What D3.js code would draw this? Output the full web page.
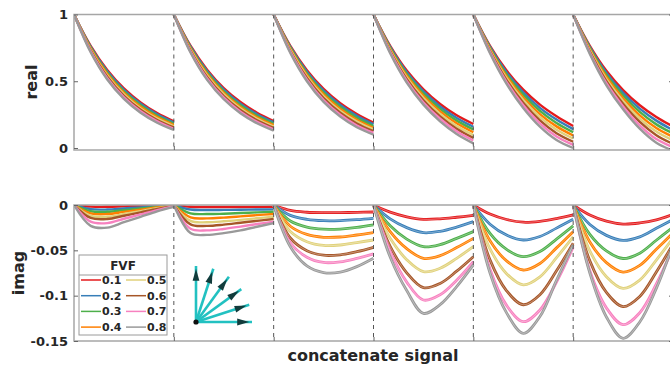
<!DOCTYPE html>
<html>
<head>
<meta charset="utf-8">
<script src="https://cdn.jsdelivr.net/npm/d3@7"></script>
<style>
    body { margin: 0; background: #fff; }
    svg text { font-family: "DejaVu Sans", sans-serif; font-weight: bold; fill: #262626; }
</style>
</head>
<body>
<svg id="chart" width="670" height="367"></svg>
<script>
(function()
{
    // FVF groups and their colours
    const fvfLevels = ["0.1", "0.2", "0.3", "0.4", "0.5", "0.6", "0.7", "0.8"];
    const fvfColors = ["#e41a1c", "#377eb8", "#4daf4a", "#ff7f00", "#e0d17a", "#a65628", "#f781bf", "#999999"];

    // position of each sample inside one segment (0 = start, 1 = end)
    const samplePos = [0, 0.167, 0.333, 0.5, 0.667, 0.833, 1];

    // real part, one array per segment, one row per FVF
    const real1 = [
        [1, .765, .585, .447, .342, .262, .200],
        [1, .758, .575, .436, .331, .252, .191],
        [1, .751, .564, .424, .320, .241, .181],
        [1, .744, .554, .413, .309, .231, .172],
        [1, .738, .544, .402, .297, .220, .163],
        [1, .731, .534, .391, .286, .210, .154],
        [1, .724, .523, .379, .275, .199, .144],
        [1, .717, .513, .368, .264, .189, .135]
    ];
    const real2 = [
        [1, .766, .587, .449, .344, .264, .202],
        [1, .759, .576, .437, .332, .253, .192],
        [1, .751, .565, .425, .320, .241, .181],
        [1, .744, .554, .413, .308, .230, .171],
        [1, .737, .543, .401, .296, .219, .161],
        [1, .730, .532, .389, .284, .208, .151],
        [1, .722, .521, .377, .272, .196, .140],
        [1, .715, .510, .365, .260, .185, .130]
    ];
    const real3 = [
        [1, .765, .583, .443, .336, .255, .190],
        [1, .757, .571, .429, .322, .241, .177],
        [1, .750, .559, .415, .307, .226, .164],
        [1, .742, .547, .401, .293, .212, .151],
        [1, .735, .536, .387, .278, .198, .139],
        [1, .727, .524, .373, .264, .184, .126],
        [1, .720, .512, .359, .249, .169, .113],
        [1, .712, .500, .345, .235, .155, .100]
    ];
    const real4 = [
        [1, .765, .580, .440, .330, .245, .180],
        [1, .757, .567, .424, .311, .225, .159],
        [1, .749, .554, .407, .293, .205, .139],
        [1, .741, .541, .391, .274, .185, .118],
        [1, .734, .529, .374, .256, .165, .097],
        [1, .726, .516, .358, .237, .145, .076],
        [1, .718, .503, .341, .219, .125, .056],
        [1, .710, .490, .325, .200, .105, .035]
    ];
    const real5 = [
        [1, .765, .580, .437, .325, .238, .165],
        [1, .757, .566, .417, .301, .213, .141],
        [1, .749, .551, .398, .278, .187, .118],
        [1, .741, .537, .378, .254, .162, .094],
        [1, .734, .523, .359, .231, .137, .071],
        [1, .726, .509, .339, .207, .111, .047],
        [1, .718, .494, .320, .184, .086, .024],
        [1, .710, .480, .300, .160, .060, .000]
    ];
    const real6 = [
        [1, .765, .578, .434, .320, .232, .160],
        [1, .756, .563, .413, .295, .205, .134],
        [1, .748, .547, .393, .270, .177, .109],
        [1, .739, .532, .372, .245, .150, .083],
        [1, .731, .516, .352, .220, .123, .057],
        [1, .722, .501, .331, .195, .096, .031],
        [1, .714, .485, .311, .170, .067, .006],
        [1, .705, .470, .290, .145, .040, -.020]
    ];

    // imaginary part
    const imag1 = [
        [0, -0.0018, -0.0020, -0.0015, -0.0010, -0.0006, -0.0002],
        [0, -0.0046, -0.0050, -0.0038, -0.0026, -0.0014, -0.0004],
        [0, -0.0069, -0.0075, -0.0057, -0.0039, -0.0021, -0.0006],
        [0, -0.0092, -0.0100, -0.0076, -0.0052, -0.0028, -0.0008],
        [0, -0.0120, -0.0130, -0.0099, -0.0068, -0.0036, -0.0010],
        [0, -0.0143, -0.0155, -0.0118, -0.0081, -0.0043, -0.0012],
        [0, -0.0184, -0.0200, -0.0152, -0.0104, -0.0056, -0.0016],
        [0, -0.0230, -0.0250, -0.0190, -0.0130, -0.0070, -0.0020]
    ];
    const imag2 = [
        [0, -0.0020, -0.0022, -0.0022, -0.0022, -0.0021, -0.0020],
        [0, -0.0050, -0.0055, -0.0054, -0.0052, -0.0050, -0.0048],
        [0, -0.0092, -0.0100, -0.0096, -0.0089, -0.0081, -0.0074],
        [0, -0.0136, -0.0147, -0.0139, -0.0126, -0.0112, -0.0099],
        [0, -0.0176, -0.0190, -0.0180, -0.0164, -0.0146, -0.0129],
        [0, -0.0214, -0.0230, -0.0217, -0.0196, -0.0175, -0.0154],
        [0, -0.0262, -0.0280, -0.0264, -0.0238, -0.0210, -0.0184],
        [0, -0.0310, -0.0330, -0.0310, -0.0280, -0.0240, -0.0200]
    ];
    const imag3 = [
        [0, -0.0060, -0.0080, -0.0085, -0.0084, -0.0081, -0.0077],
        [0, -0.0114, -0.0158, -0.0173, -0.0172, -0.0162, -0.0147],
        [0, -0.0176, -0.0243, -0.0267, -0.0265, -0.0248, -0.0220],
        [0, -0.0234, -0.0324, -0.0356, -0.0353, -0.0331, -0.0305],
        [0, -0.0293, -0.0405, -0.0446, -0.0441, -0.0414, -0.0386],
        [0, -0.0364, -0.0504, -0.0554, -0.0549, -0.0515, -0.0467],
        [0, -0.0416, -0.0576, -0.0634, -0.0627, -0.0589, -0.0540],
        [0, -0.0460, -0.0672, -0.0745, -0.0740, -0.0680, -0.0588]
    ];
    const imag4 = [
        [0, -0.0079, -0.0130, -0.0158, -0.0152, -0.0135, -0.0115],
        [0, -0.0153, -0.0250, -0.0305, -0.0290, -0.0244, -0.0184],
        [0, -0.0230, -0.0377, -0.0460, -0.0437, -0.0368, -0.0294],
        [0, -0.0294, -0.0482, -0.0588, -0.0559, -0.0470, -0.0368],
        [0, -0.0368, -0.0603, -0.0735, -0.0698, -0.0588, -0.0460],
        [0, -0.0456, -0.0748, -0.0912, -0.0866, -0.0730, -0.0570],
        [0, -0.0510, -0.0850, -0.1048, -0.0990, -0.0830, -0.0625],
        [0, -0.0574, -0.0944, -0.1195, -0.1100, -0.0900, -0.0660]
    ];
    const imag5 = [
        [0, -0.0100, -0.0160, -0.0190, -0.0180, -0.0150, -0.0110],
        [0, -0.0212, -0.0332, -0.0386, -0.0347, -0.0255, -0.0158],
        [0, -0.0314, -0.0490, -0.0570, -0.0513, -0.0376, -0.0230],
        [0, -0.0394, -0.0617, -0.0717, -0.0645, -0.0473, -0.0294],
        [0, -0.0484, -0.0757, -0.0880, -0.0792, -0.0581, -0.0352],
        [0, -0.0605, -0.0946, -0.1100, -0.0990, -0.0726, -0.0420],
        [0, -0.0708, -0.1107, -0.1287, -0.1158, -0.0849, -0.0465],
        [0, -0.0750, -0.1190, -0.1415, -0.1230, -0.0830, -0.0440]
    ];
    const imag6 = [
        [0, -0.0110, -0.0178, -0.0210, -0.0198, -0.0165, -0.0105],
        [0, -0.0215, -0.0335, -0.0390, -0.0351, -0.0257, -0.0160],
        [0, -0.0325, -0.0507, -0.0590, -0.0531, -0.0389, -0.0245],
        [0, -0.0407, -0.0636, -0.0740, -0.0666, -0.0488, -0.0310],
        [0, -0.0506, -0.0791, -0.0920, -0.0828, -0.0607, -0.0365],
        [0, -0.0616, -0.0963, -0.1120, -0.1008, -0.0739, -0.0430],
        [0, -0.0726, -0.1135, -0.1320, -0.1188, -0.0871, -0.0470],
        [0, -0.0750, -0.1235, -0.1470, -0.1290, -0.0920, -0.0440]
    ];

    const realTicks = [0, 0.5, 1];
    const realTickLabels = ["0", "0.5", "1"];
    const imagTicks = [0, -0.05, -0.1, -0.15];
    const imagTickLabels = ["0", "-0.05", "-0.1", "-0.15"];
    const segmentBounds = [1, 2, 3, 4, 5];

    // directions drawn in the inset (degrees)
    const arrowAngles = [0, 18, 36, 54, 72, 90];

    var svg = d3.select("#chart");

    var x = d3.scaleLinear().domain([0, 6]).range([74, 673]);
    var yReal = d3.scaleLinear().domain([-0.015, 1]).range([150, 14.5]);
    var yImag = d3.scaleLinear().domain([-0.15, 0]).range([341, 205]);

    drawPanel("real", yReal, [real1, real2, real3, real4, real5, real6], realTicks, realTickLabels, false);
    drawPanel("imag", yImag, [imag1, imag2, imag3, imag4, imag5, imag6], imagTicks, imagTickLabels, true);

    function drawPanel(name, y, segData, ticks, tickLabels, splitLines) {
        var top = y.range()[1], bottom = y.range()[0];
        var left = x.range()[0], right = x.range()[1];

        svg.append("clipPath").attr("id", "clip-" + name)
            .append("rect")
            .attr("x", left).attr("y", top)
            .attr("width", right - left).attr("height", bottom - top);

        var plot = svg.append("g").attr("clip-path", "url(#clip-" + name + ")");
        var line = d3.line()
            .x(function(d) { return x(d[0]); })
            .y(function(d) { return y(d[1]); })
            .curve(d3.curveCatmullRom.alpha(0.5));

        segData.forEach(function(rows, s) {
            rows.forEach(function(vals, i) {
                var pts = vals.map(function(v, k) { return [s + samplePos[k], v]; });
                plot.append("path")
                    .attr("d", line(pts))
                    .attr("fill", "none")
                    .attr("stroke", fvfColors[i])
                    .attr("stroke-width", splitLines && s > 1 ? 2.8 : 2.4);
                // the later segments show several close traces per group
                if (splitLines && s > 1) {
                    plot.append("path")
                        .attr("d", line(pts))
                        .attr("fill", "none")
                        .attr("stroke", "#fff")
                        .attr("stroke-opacity", 0.6)
                        .attr("stroke-width", 0.6);
                }
            });
        });

        // segment separators
        svg.append("g").selectAll("line")
            .data(segmentBounds)
            .enter()
            .append("line")
            .attr("x1", function(d) { return x(d); })
            .attr("x2", function(d) { return x(d); })
            .attr("y1", top).attr("y2", bottom)
            .attr("stroke", "#555")
            .attr("stroke-width", 1)
            .attr("stroke-dasharray", "4,4");

        svg.append("rect")
            .attr("x", left).attr("y", top)
            .attr("width", right - left).attr("height", bottom - top)
            .attr("fill", "none")
            .attr("stroke", "#a6a6a6")
            .attr("stroke-width", 1.5);

        var yAxis = d3.axisLeft(y)
            .tickValues(ticks)
            .tickFormat(function(d, i) { return tickLabels[i]; })
            .tickSize(-4)
            .tickPadding(6);
        var ga = svg.append("g").attr("transform", "translate(" + left + ",0)").call(yAxis);
        ga.select(".domain").remove();
        ga.selectAll("line").attr("stroke", "#666");
        ga.selectAll("text")
            .style("font-size", "13px")
            .style("font-family", "'DejaVu Sans', sans-serif")
            .attr("fill", "#262626");

        var yAxisR = d3.axisRight(y).tickValues(ticks).tickFormat("").tickSize(-4);
        var gr = svg.append("g").attr("transform", "translate(" + right + ",0)").call(yAxisR);
        gr.select(".domain").remove();
        gr.selectAll("line").attr("stroke", "#666");

        var xAxis = d3.axisBottom(x).tickValues(segmentBounds).tickFormat("").tickSize(-4);
        var gx = svg.append("g").attr("transform", "translate(0," + bottom + ")").call(xAxis);
        gx.select(".domain").remove();
        gx.selectAll("line").attr("stroke", "#666");
    }

    // axis titles
    svg.append("text")
        .attr("transform", "translate(37,82) rotate(-90)")
        .attr("text-anchor", "middle")
        .style("font-size", "16px")
        .text("real");
    svg.append("text")
        .attr("transform", "translate(24,273) rotate(-90)")
        .attr("text-anchor", "middle")
        .style("font-size", "16px")
        .text("imag");
    svg.append("text")
        .attr("x", 373).attr("y", 361)
        .attr("text-anchor", "middle")
        .style("font-size", "16px")
        .text("concatenate signal");

    // legend
    var legend = svg.append("g").attr("transform", "translate(79,255)");
    legend.append("rect")
        .attr("width", 88).attr("height", 80)
        .attr("fill", "#fff")
        .attr("stroke", "#9a9a9a")
        .attr("stroke-width", 1);
    legend.append("text")
        .attr("x", 44).attr("y", 15)
        .attr("text-anchor", "middle")
        .style("font-size", "12px")
        .text("FVF");
    legend.append("line")
        .attr("x1", 0).attr("x2", 88)
        .attr("y1", 20).attr("y2", 20)
        .attr("stroke", "#9a9a9a");
    var items = legend.selectAll("g.item")
        .data(fvfLevels)
        .enter()
        .append("g")
        .attr("class", "item")
        .attr("transform", function(d, i) {
            var col = i < 4 ? 0 : 1;
            var row = i % 4;
            return "translate(" + (2 + col * 45) + "," + (25 + row * 15.7) + ")";
        });
    items.append("line")
        .attr("x1", 0).attr("x2", 20)
        .attr("y1", 0).attr("y2", 0)
        .attr("stroke", function(d, i) { return fvfColors[i]; })
        .attr("stroke-width", 1.5);
    items.append("text")
        .attr("x", 21).attr("y", 4)
        .style("font-size", "11px")
        .text(function(d) { return d; });

    // inset of rotating vectors
    var len = d3.scaleLinear().domain([0, 1]).range([0, 56]);
    var inset = svg.append("g").attr("transform", "translate(196,322)");
    arrowAngles.forEach(function(a) {
        var r = a * Math.PI / 180;
        var tx = len(1) * Math.cos(r), ty = -len(1) * Math.sin(r);
        inset.append("line")
            .attr("x1", 0).attr("y1", 0)
            .attr("x2", tx).attr("y2", ty)
            .attr("stroke", "#22c1c1")
            .attr("stroke-width", 2.6);
        // arrow head a bit before the tip
        var hx = len(0.86) * Math.cos(r), hy = -len(0.86) * Math.sin(r);
        inset.append("path")
            .attr("d", "M5,0 L-7,-3.4 L-7,3.4 Z")
            .attr("transform", "translate(" + hx + "," + hy + ") rotate(" + (-a) + ")")
            .attr("fill", "#123c3c");
    });
    inset.append("circle").attr("r", 2.6).attr("fill", "#111");
})();
</script>
</body>
</html>
